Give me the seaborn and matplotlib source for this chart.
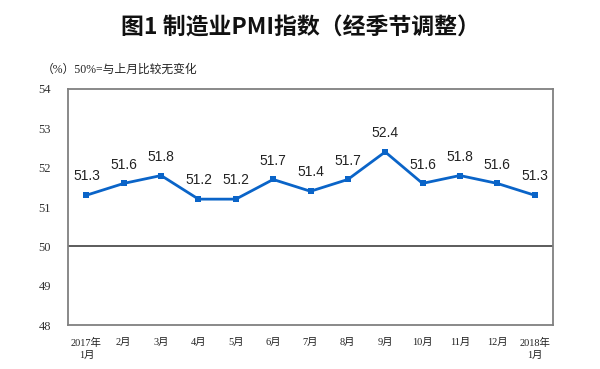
import matplotlib
matplotlib.use("Agg")
import matplotlib.pyplot as plt
import seaborn as sns
import pandas as pd

# data
months = ["2017年\n1月", "2月", "3月", "4月", "5月", "6月", "7月",
          "8月", "9月", "10月", "11月", "12月", "2018年\n1月"]
pmi = [51.3, 51.6, 51.8, 51.2, 51.2, 51.7, 51.4, 51.7, 52.4, 51.6, 51.8, 51.6, 51.3]
y_ticks = [48, 49, 50, 51, 52, 53, 54]

sns.set_style("white")
plt.rcParams['font.family'] = ['Noto Sans CJK SC', 'DejaVu Sans']
serif_cjk = ["Liberation Serif", "Noto Sans CJK SC"]

df = pd.DataFrame({"pos": range(len(months)), "pmi": pmi})

fig = plt.figure(figsize=(6, 3.69), dpi=100)
ax = fig.add_axes([0.113, 0.119, 0.809, 0.640])

sns.lineplot(data=df, x="pos", y="pmi", ax=ax, color="#0a64c8", linewidth=2,
             marker="s", markersize=4.5, markeredgewidth=0)

# data labels
for x, v in zip(df.pos, df.pmi):
    ax.text(x, v + 0.3, f"{v:.1f}", ha="center", va="bottom", fontsize=10,
            color="#222222", family=["Liberation Sans", "DejaVu Sans"])

# 50% reference line
ax.axhline(50, color="#404040", linewidth=1.2)

ax.set_xlim(-0.5, len(months) - 0.5)
ax.set_ylim(48, 54)
ax.set_yticks(y_ticks)
ax.set_xticks(range(len(months)))
ax.set_xticklabels(months, fontsize=7.5, color="#222222", linespacing=1.5)
ax.tick_params(axis="y", length=0, pad=12, labelsize=9, labelcolor="#333333")
ax.tick_params(axis="x", length=0, pad=9)
for lab in ax.get_yticklabels() + ax.get_xticklabels():
    lab.set_family(serif_cjk)
ax.set_xlabel("")
ax.set_ylabel("")
for s in ax.spines.values():
    s.set_visible(True)
    s.set_color("#808080")
    s.set_linewidth(1.3)

fig.text(0.5, 0.925, "图1 制造业PMI指数（经季节调整）", ha="center", va="center",
         fontsize=16.5, fontweight="bold", color="#111111")
fig.text(0.07, 0.812, "（%）50%=与上月比较无变化", ha="left", va="center",
         fontsize=8.5, color="#222222", family=serif_cjk)

fig.savefig("out.png", dpi=100)
